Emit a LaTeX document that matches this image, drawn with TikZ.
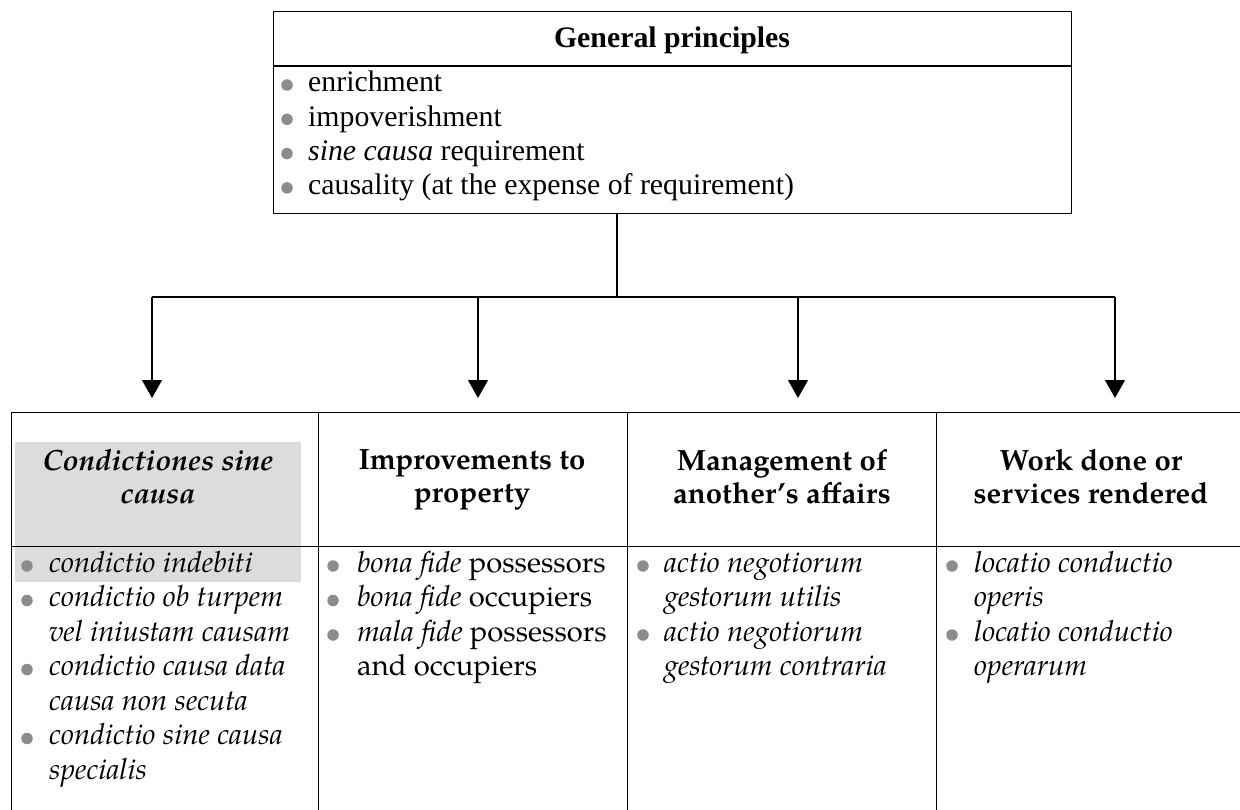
\documentclass[tikz,border=0pt]{standalone}
\usepackage{fontspec}
\setmainfont{Liberation Serif}
\newfontfamily\pal{TeX Gyre Pagella}
\usetikzlibrary{arrows.meta}
\definecolor{bulgrey}{HTML}{8C8C8C}
\definecolor{hlgrey}{HTML}{DCDCDC}
\begin{document}
\begin{tikzpicture}[x=1pt,y=-1pt,
  frame/.style={draw, line width=1.2pt, inner sep=0pt, anchor=north west},
  bul/.style={circle, fill=bulgrey, minimum size=11.5pt, inner sep=0pt},
  gtext/.style={anchor=base west, inner sep=0pt, font=\fontsize{29.8}{34}\selectfont},
  gtitle/.style={anchor=base, inner sep=0pt, font=\bfseries\fontsize{29.8}{34}\selectfont},
  hdr/.style={anchor=north, inner sep=0pt, align=center, font=\pal\bfseries\fontsize{29.3}{33}\selectfont},
  hdri/.style={hdr, font=\pal\bfseries\itshape\fontsize{29.3}{33}\selectfont},
  itm/.style={anchor=north west, inner sep=0pt, align=left, font=\pal\fontsize{29.2}{34.5}\selectfont},
  itmi/.style={itm, font=\pal\itshape\fontsize{29.2}{34.5}\selectfont},
  conn/.style={line width=1.2pt},
  arr/.style={conn, -{Triangle[width=20pt,length=18pt]}}]
\useasboundingbox (0,0) rectangle (1240,810);
\clip (0,0) rectangle (1240,810);

% ---------- top box ----------
\node[frame, minimum width=798pt, minimum height=202pt] (gp) at (273,11) {};
\coordinate (gdiv) at (0,66);
\draw[conn] (gp.west |- gdiv) -- (gp.east |- gdiv);
\node[gtitle] (gpt) at (672,48) {General principles};
\node[bul] (gb1) at (287,85) {};
\node[bul] (gb2) at (287,119.3) {};
\node[bul] (gb3) at (287,153.6) {};
\node[bul] (gb4) at (287,187.9) {};
\node[gtext] (g1) at (308,92) {enrichment};
\node[gtext] (g2) at (308,126.3) {impoverishment};
\node[gtext] (g3) at (308,160.6) {\textit{sine causa} requirement};
\node[gtext] (g4) at (308,194.9) {causality (at the expense of requirement)};

% ---------- connectors ----------
\coordinate (jn) at (617,297);
\coordinate (a1) at (152,297);
\coordinate (a2) at (478,297);
\coordinate (a3) at (798,297);
\coordinate (a4) at (1115,297);
\coordinate (t1) at (152,398);
\coordinate (t2) at (478,398);
\coordinate (t3) at (798,398);
\coordinate (t4) at (1115,398);
\draw[conn] (gp.south -| jn) -- (jn);
\draw[conn] (a1) -- (a4);
\draw[arr] (a1) -- (t1);
\draw[arr] (a2) -- (t2);
\draw[arr] (a3) -- (t3);
\draw[arr] (a4) -- (t4);

% ---------- highlight ----------
\fill[hlgrey] (15,442) rectangle (301,582);

% ---------- table ----------
\node[frame, minimum width=307pt, minimum height=134pt] (h1) at (11,412) {};
\node[frame, minimum width=309pt, minimum height=134pt] (h2) at (318,412) {};
\node[frame, minimum width=309pt, minimum height=134pt] (h3) at (627,412) {};
\node[frame, minimum width=309pt, minimum height=134pt] (h4) at (936,412) {};
\node[frame, minimum width=307pt, minimum height=300pt] (c1) at (11,546) {};
\node[frame, minimum width=309pt, minimum height=300pt] (c2) at (318,546) {};
\node[frame, minimum width=309pt, minimum height=300pt] (c3) at (627,546) {};
\node[frame, minimum width=309pt, minimum height=300pt] (c4) at (936,546) {};

\node[hdri] (h1t) at (158,448.9) {Condictiones sine\\causa};
\node[hdr] (h2t) at (472,448.9) {Improvements to\\property};
\node[hdr] (h3t) at (782,448.9) {Management of\\another’s affairs};
\node[hdr] (h4t) at (1091,448.9) {Work done or\\services rendered};

% column 1
\node[bul] (b11) at (27,566) {};
\node[bul] (b12) at (27,600.5) {};
\node[bul] (b13) at (27,669.5) {};
\node[bul] (b14) at (27,738.5) {};
\node[itmi] (i11) at (49,547.85) {\strut condictio indebiti};
\node[itmi] (i12) at (49,582.35) {\strut condictio ob turpem\\vel iniustam causam};
\node[itmi] (i13) at (49,651.35) {\strut condictio causa data\\causa non secuta};
\node[itmi] (i14) at (49,720.35) {\strut condictio sine causa\\specialis};

% column 2
\node[bul] (b21) at (333,566) {};
\node[bul] (b22) at (333,600.5) {};
\node[bul] (b23) at (333,635) {};
\node[itm] (i21) at (357,547.85) {\strut\textit{bona fide} possessors};
\node[itm] (i22) at (357,582.35) {\strut\textit{bona fide} occupiers};
\node[itm] (i23) at (357,616.85) {\strut\textit{mala fide} possessors\\and occupiers};

% column 3
\node[bul] (b31) at (643,566) {};
\node[bul] (b32) at (643,635) {};
\node[itmi] (i31) at (664,547.85) {\strut actio negotiorum\\gestorum utilis};
\node[itmi] (i32) at (664,616.85) {\strut actio negotiorum\\gestorum contraria};

% column 4
\node[bul] (b41) at (952,566) {};
\node[bul] (b42) at (952,635) {};
\node[itmi] (i41) at (974,547.85) {\strut locatio conductio\\operis};
\node[itmi] (i42) at (974,616.85) {\strut locatio conductio\\operarum};
\end{tikzpicture}
\end{document}
